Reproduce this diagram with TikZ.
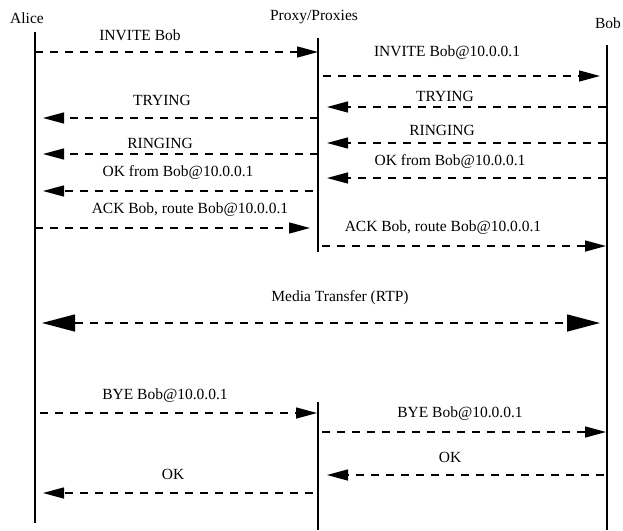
\documentclass[tikz,border=0pt]{standalone}
\usepackage{fontspec}
\setmainfont{Liberation Serif}
\usetikzlibrary{arrows.meta}
\begin{document}
\begin{tikzpicture}[x=1pt,y=-1pt,
  lifeline/.style={line width=1.6pt},
  msg/.style={line width=1.4pt, dash pattern=on 8pt off 7pt,
    -{Triangle[length=21pt,width=11pt]}},
  media/.style={line width=1.4pt, dash pattern=on 8pt off 7pt,
    {Triangle[length=33pt,width=17pt]}-{Triangle[length=33pt,width=17pt]}},
  lbl/.style={font=\fontsize{15.5}{18}\selectfont, inner sep=0pt},
  actor/.style={font=\fontsize{15.5}{18}\selectfont, inner sep=0pt}]
\useasboundingbox (0,0) rectangle (623,530);

% actors
\node[actor] (alice) at (27,18) {Alice};
\node[actor] (proxy) at (314,17) {Proxy/Proxies};
\node[actor] (bob) at (608,23) {Bob};

% lifelines
\coordinate (aT) at (35,32);   \coordinate (aB) at (35,523);
\coordinate (pT) at (318,38);  \coordinate (pB) at (318,252);
\coordinate (pT2) at (318,402); \coordinate (pB2) at (318,530);
\coordinate (bT) at (607,45);  \coordinate (bB) at (607,530);
\draw[lifeline] (aT) -- (aB);
\draw[lifeline] (pT) -- (pB);
\draw[lifeline] (pT2) -- (pB2);
\draw[lifeline] (bT) -- (bB);

% message end points
\coordinate (m1s) at (35,52);   \coordinate (m1e) at (318,52);
\coordinate (m2s) at (323,76);  \coordinate (m2e) at (600,76);
\coordinate (m3s) at (606,107); \coordinate (m3e) at (327,107);
\coordinate (m4s) at (318,118); \coordinate (m4e) at (43,118);
\coordinate (m5s) at (606,143); \coordinate (m5e) at (327,143);
\coordinate (m6s) at (318,154); \coordinate (m6e) at (43,154);
\coordinate (m7s) at (606,178); \coordinate (m7e) at (327,178);
\coordinate (m8s) at (313,191); \coordinate (m8e) at (43,191);
\coordinate (m9s) at (35,228);  \coordinate (m9e) at (310,228);
\coordinate (m10s) at (322,246); \coordinate (m10e) at (606,246);
\coordinate (mds) at (42,323);  \coordinate (mde) at (600,323);
\coordinate (m12s) at (40,413); \coordinate (m12e) at (317,413);
\coordinate (m13s) at (322,432); \coordinate (m13e) at (606,432);
\coordinate (m14s) at (604,475); \coordinate (m14e) at (327,475);
\coordinate (m15s) at (313,493); \coordinate (m15e) at (43,493);

% messages
\draw[msg] (m1s) -- (m1e);
\draw[msg] (m2s) -- (m2e);
\draw[msg] (m3s) -- (m3e);
\draw[msg] (m4s) -- (m4e);
\draw[msg] (m5s) -- (m5e);
\draw[msg] (m6s) -- (m6e);
\draw[msg] (m7s) -- (m7e);
\draw[msg] (m8s) -- (m8e);
\draw[msg] (m9s) -- (m9e);
\draw[msg] (m10s) -- (m10e);
\draw[media] (mds) -- (mde);
\draw[msg] (m12s) -- (m12e);
\draw[msg] (m13s) -- (m13e);
\draw[msg] (m14s) -- (m14e);
\draw[msg] (m15s) -- (m15e);

% message labels
\node[lbl] (l1) at (140,35) {INVITE Bob};
\node[lbl] (l2) at (447,53) {INVITE Bob@10.0.0.1};
\node[lbl] (l3) at (445,96) {TRYING};
\node[lbl] (l4) at (162,100) {TRYING};
\node[lbl] (l5) at (442,130) {RINGING};
\node[lbl] (l6) at (160,143) {RINGING};
\node[lbl] (l7) at (450,162) {OK from Bob@10.0.0.1};
\node[lbl] (l8) at (178,173) {OK from Bob@10.0.0.1};
\node[lbl] (l9) at (190,210) {ACK Bob, route Bob@10.0.0.1};
\node[lbl] (l10) at (443,228) {ACK Bob, route Bob@10.0.0.1};
\node[lbl] (lm) at (340,298) {Media Transfer (RTP)};
\node[lbl] (l12) at (165,396) {BYE Bob@10.0.0.1};
\node[lbl] (l13) at (460,414) {BYE Bob@10.0.0.1};
\node[lbl] (l14) at (450,457) {OK};
\node[lbl] (l15) at (173,474) {OK};
\end{tikzpicture}
\end{document}
